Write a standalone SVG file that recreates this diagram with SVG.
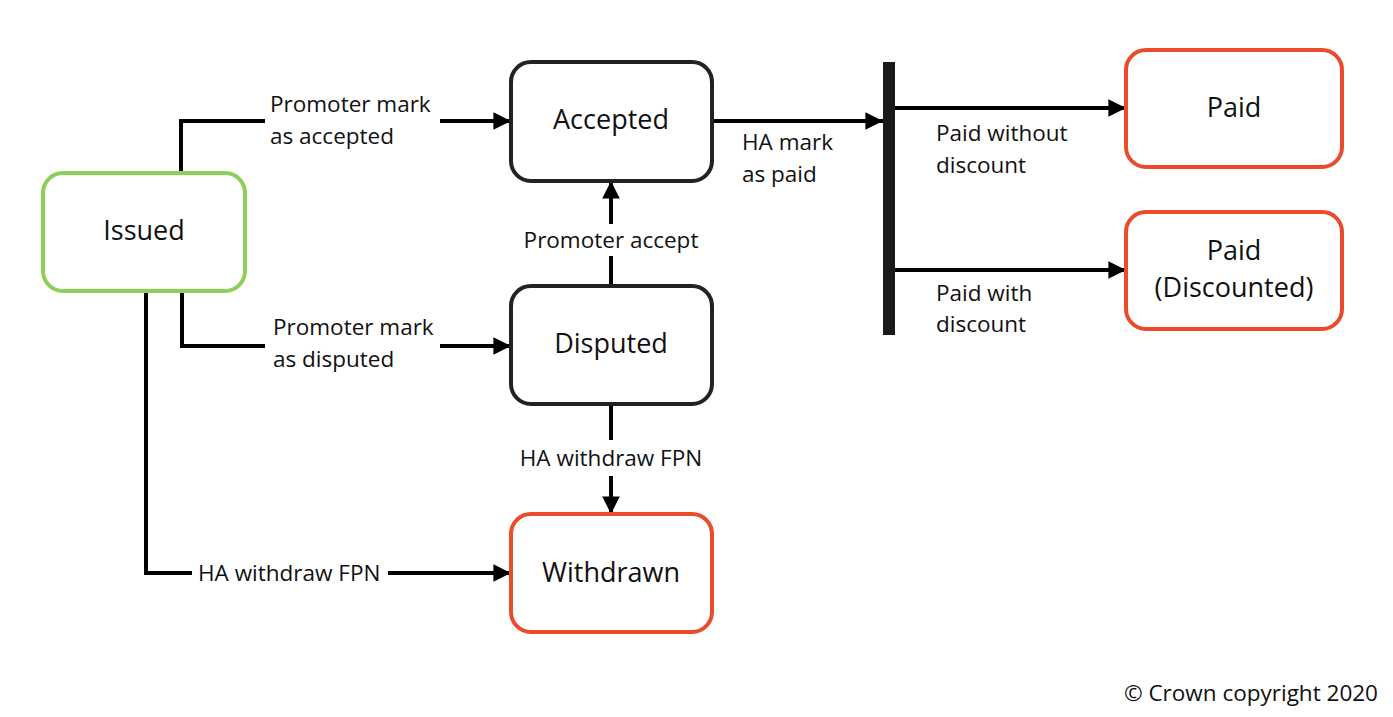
<svg xmlns="http://www.w3.org/2000/svg" width="1393" height="717" viewBox="0 0 1393 717">
<defs>
<marker id="ah" viewBox="0 0 10 10" refX="10" refY="5" markerWidth="4.4" markerHeight="4.4" orient="auto" markerUnits="strokeWidth">
<path d="M0,0 L10,5 L0,10 z" fill="#000"/>
</marker>
<style>
.node rect{fill:#fff;stroke-width:4}
.black rect{stroke:#222}
.green rect{stroke:#8bd05a}
.red rect{stroke:#ea4c2b}
.nt{font-family:"Open Sans","Liberation Sans",sans-serif;font-size:27px;fill:#111;text-anchor:middle}
.lbl{font-family:"Open Sans","Liberation Sans",sans-serif;font-size:22.5px;fill:#111}
.c{fill:none;stroke:#000;stroke-width:4}
.ca{fill:none;stroke:#000;stroke-width:4;marker-end:url(#ah)}
</style>
</defs>
<rect width="1393" height="717" fill="#fff"/>
<g id="connectors">
<path class="c" d="M181,173 V121 H265"/>
<path class="ca" d="M440,121 H511"/>
<path class="c" d="M182,291 V346 H265"/>
<path class="ca" d="M440,346 H511"/>
<path class="c" d="M146,291 V573 H192"/>
<path class="ca" d="M388,573 H511"/>
<path class="c" d="M611,286 V256"/>
<path class="ca" d="M611,224 V181"/>
<path class="c" d="M611,404 V440"/>
<path class="ca" d="M611,476 V514"/>
<path class="ca" d="M712,121 H883"/>
<path class="ca" d="M895,108 H1126"/>
<path class="ca" d="M895,270 H1126"/>
<rect x="883" y="62" width="12" height="273" fill="#1a1a1a"/>
<text class="lbl" x="270" y="112">Promoter mark</text>
<text class="lbl" x="270" y="144">as accepted</text>
<text class="lbl" x="273" y="335">Promoter mark</text>
<text class="lbl" x="273" y="367">as disputed</text>
<text class="lbl" x="198" y="581">HA withdraw FPN</text>
<text class="lbl" x="611" y="248" text-anchor="middle">Promoter accept</text>
<text class="lbl" x="611" y="466" text-anchor="middle">HA withdraw FPN</text>
<text class="lbl" x="742" y="150">HA mark</text>
<text class="lbl" x="742" y="182">as paid</text>
<text class="lbl" x="936" y="141">Paid without</text>
<text class="lbl" x="936" y="173">discount</text>
<text class="lbl" x="936" y="301">Paid with</text>
<text class="lbl" x="936" y="332">discount</text>
</g>
<g id="issued" class="node green">
<rect x="43" y="173" width="202" height="118" rx="20"/>
<text class="nt" x="144" y="240">Issued</text>
</g>
<g id="accepted" class="node black">
<rect x="511" y="62" width="201" height="119" rx="20"/>
<text class="nt" x="611" y="129">Accepted</text>
</g>
<g id="disputed" class="node black">
<rect x="511" y="286" width="201" height="118" rx="20"/>
<text class="nt" x="611" y="353">Disputed</text>
</g>
<g id="withdrawn" class="node red">
<rect x="511" y="514" width="201" height="118" rx="20"/>
<text class="nt" x="611" y="582">Withdrawn</text>
</g>
<g id="paid" class="node red">
<rect x="1126" y="50" width="216" height="117" rx="20"/>
<text class="nt" x="1234" y="117">Paid</text>
</g>
<g id="paid-discounted" class="node red">
<rect x="1126" y="212" width="216" height="117" rx="20"/>
<text class="nt" x="1234" y="260">Paid</text>
<text class="nt" x="1234" y="297">(Discounted)</text>
</g>
<text class="lbl" x="1378" y="701" text-anchor="end">© Crown copyright 2020</text>
</svg>
